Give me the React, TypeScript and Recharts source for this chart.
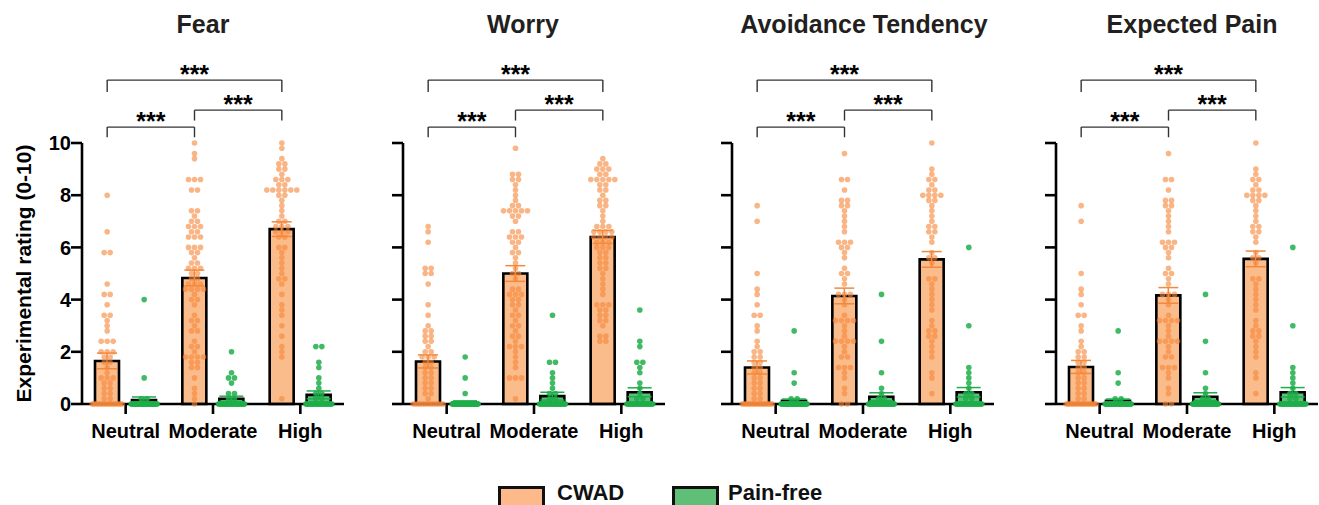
import React from "react";
import { ComposedChart, Bar, Scatter, XAxis, YAxis, ErrorBar, ReferenceLine } from "recharts";

type Pair = [number, number]; // [rating, number of participants at that rating]

const categories = ["Neutral", "Moderate", "High"];
const yTicks = [0, 2, 4, 6, 8, 10];

// bar heights (group means) and SEM
const fearCwadMean = [1.65, 4.83, 6.7];
const fearCwadErr = [0.3, 0.3, 0.28];
const fearPfMean = [0.15, 0.2, 0.35];
const fearPfErr = [0.12, 0.1, 0.15];

const worryCwadMean = [1.63, 5.0, 6.4];
const worryCwadErr = [0.25, 0.3, 0.25];
const worryPfMean = [0.06, 0.3, 0.45];
const worryPfErr = [0.06, 0.15, 0.17];

const avoidCwadMean = [1.4, 4.14, 5.54];
const avoidCwadErr = [0.25, 0.3, 0.3];
const avoidPfMean = [0.12, 0.28, 0.45];
const avoidPfErr = [0.07, 0.15, 0.18];

const painCwadMean = [1.42, 4.16, 5.56];
const painCwadErr = [0.25, 0.3, 0.3];
const painPfMean = [0.12, 0.28, 0.45];
const painPfErr = [0.07, 0.15, 0.18];

// individual ratings
const fearCwadDots: Pair[][] = [
  [[8, 1], [6.6, 1], [5.8, 2], [4.6, 1], [4.2, 2], [3.8, 1], [3.4, 2], [3.2, 1], [3, 1], [2.8, 1], [2.4, 3], [2, 3], [1.8, 2], [1.6, 2], [1.4, 1], [1.2, 1], [1, 3], [0.8, 2], [0.6, 2], [0.4, 2], [0.2, 2], [0, 18]],
  [[10, 1], [9.6, 1], [9.4, 1], [8.6, 3], [8.2, 2], [7.4, 2], [7.2, 1], [7, 2], [6.8, 3], [6.6, 2], [6.4, 3], [6, 3], [5.8, 2], [5.6, 1], [5.4, 2], [5.2, 3], [5, 2], [4.8, 2], [4.6, 3], [4.4, 4], [4.2, 1], [4, 2], [3.8, 1], [3.4, 1], [3.2, 2], [3, 1], [2.8, 2], [2.4, 1], [2.2, 2], [2, 1], [1.8, 4], [1.6, 2], [1.4, 2], [1, 1], [0.6, 1], [0.4, 1], [0.2, 1], [0, 1]],
  [[10, 1], [9.8, 1], [9.4, 1], [9.2, 2], [9, 2], [8.8, 1], [8.6, 3], [8.4, 2], [8.2, 6], [8, 2], [7.8, 1], [7.6, 1], [7.4, 1], [7.2, 1], [7, 2], [6.8, 3], [6.6, 3], [6.4, 2], [6, 2], [5.8, 1], [5.6, 1], [5.4, 1], [5.2, 1], [5, 1], [4.8, 2], [4.6, 1], [4.2, 1], [3.8, 1], [3.6, 1], [3.4, 1], [3, 1], [2.6, 1], [2.2, 1], [2, 1], [1.8, 1], [0.2, 1]],
];
const fearPfDots: Pair[][] = [
  [[4, 1], [1, 1], [0.2, 2], [0, 38]],
  [[2, 1], [1.2, 1], [1, 2], [0.8, 1], [0.4, 2], [0.2, 2], [0, 33]],
  [[2.2, 2], [1.6, 1], [1.4, 1], [1, 1], [0.8, 1], [0.6, 1], [0.4, 2], [0.2, 2], [0, 31]],
];

const worryCwadDots: Pair[][] = [
  [[6.8, 1], [6.6, 1], [6.2, 1], [5.2, 2], [5, 2], [4.6, 1], [3.8, 1], [3.4, 1], [3, 1], [2.8, 2], [2.6, 2], [2.4, 2], [2.2, 1], [2, 2], [1.8, 3], [1.6, 2], [1.4, 2], [1.2, 2], [1, 2], [0.8, 2], [0.6, 2], [0.4, 2], [0.2, 1], [0, 14]],
  [[9.8, 1], [8.8, 2], [8.6, 2], [8.4, 1], [8.2, 1], [8, 1], [7.8, 1], [7.6, 2], [7.4, 5], [7.2, 2], [7, 1], [6.6, 2], [6.4, 3], [6.2, 2], [6, 1], [5.8, 2], [5.6, 1], [5.4, 1], [5.2, 1], [5, 2], [4.8, 1], [4.4, 2], [4.2, 3], [4, 2], [3.8, 2], [3.6, 1], [3.4, 2], [3.2, 1], [3, 2], [2.8, 1], [2.6, 2], [2.4, 1], [2.2, 3], [2, 1], [1.8, 1], [1.6, 1], [1.4, 1], [1, 3], [0.2, 1]],
  [[9.4, 1], [9.2, 2], [9, 3], [8.8, 2], [8.6, 5], [8.4, 2], [8.2, 2], [8, 1], [7.8, 2], [7.6, 2], [7.4, 1], [7.2, 1], [7, 1], [6.8, 3], [6.6, 4], [6.4, 4], [6.2, 3], [6, 3], [5.8, 2], [5.6, 2], [5.4, 2], [5.2, 2], [5, 1], [4.8, 1], [4.6, 1], [4.4, 1], [4.2, 1], [3.8, 3], [3.6, 2], [3.4, 2], [3.2, 2], [3, 1], [2.6, 2], [2.4, 2]],
];
const worryPfDots: Pair[][] = [
  [[1.8, 1], [1, 1], [0.4, 1], [0, 40]],
  [[3.4, 1], [1.6, 2], [1.2, 1], [1, 1], [0.8, 1], [0.6, 1], [0.4, 2], [0.2, 2], [0, 32]],
  [[3.6, 1], [2.4, 1], [2.2, 1], [1.6, 2], [1.4, 1], [1.2, 1], [0.8, 1], [0.6, 1], [0.4, 1], [0.2, 2], [0, 31]],
];

const avoidCwadDots: Pair[][] = [
  [[7.6, 1], [7, 1], [5, 1], [4.4, 1], [4.2, 1], [3.8, 1], [3.4, 2], [3, 1], [2.8, 1], [2.4, 1], [2.2, 1], [2, 2], [1.8, 2], [1.6, 2], [1.4, 2], [1.2, 2], [1, 2], [0.8, 2], [0.6, 2], [0.4, 2], [0.2, 2], [0, 20]],
  [[9.6, 1], [8.6, 2], [8.2, 1], [7.8, 2], [7.6, 2], [7.4, 1], [7.2, 1], [7, 1], [6.8, 1], [6.6, 1], [6.2, 3], [6, 2], [5.8, 1], [5.6, 1], [5.2, 1], [5, 2], [4.8, 1], [4.6, 1], [4.2, 3], [4, 1], [3.8, 1], [3.4, 1], [3.2, 4], [3, 1], [2.8, 1], [2.6, 1], [2.4, 4], [2.2, 1], [2, 1], [1.8, 2], [1.4, 3], [1.2, 1], [1, 1], [0.6, 1], [0.4, 1], [0, 2]],
  [[10, 1], [9, 1], [8.8, 1], [8.6, 2], [8.4, 1], [8.2, 2], [8, 4], [7.8, 2], [7.6, 1], [7.4, 1], [7.2, 1], [7, 1], [6.8, 2], [6.6, 2], [6.4, 1], [6.2, 1], [5.8, 1], [5.6, 2], [5.4, 1], [4.8, 2], [4.6, 1], [4.4, 1], [4.2, 1], [4, 1], [3.8, 1], [3.6, 1], [3.2, 1], [3, 1], [2.8, 2], [2.6, 2], [2.4, 1], [2.2, 1], [2, 1], [1.8, 1], [1.2, 1], [1, 1], [0.4, 1]],
];
const avoidPfDots: Pair[][] = [
  [[2.8, 1], [1.2, 1], [0.8, 1], [0.2, 2], [0, 38]],
  [[4.2, 1], [2.4, 1], [1.2, 1], [0.6, 1], [0.4, 1], [0.2, 2], [0, 36]],
  [[6, 1], [3, 1], [1.4, 1], [1.2, 1], [1, 1], [0.8, 1], [0.6, 1], [0.4, 2], [0.2, 2], [0, 32]],
];

const painCwadDots: Pair[][] = [
  [[7.6, 1], [7, 1], [5, 1], [4.4, 1], [4.2, 1], [3.8, 1], [3.4, 2], [3, 1], [2.8, 1], [2.4, 1], [2.2, 1], [2, 2], [1.8, 2], [1.6, 2], [1.4, 2], [1.2, 2], [1, 2], [0.8, 2], [0.6, 2], [0.4, 2], [0.2, 2], [0, 20]],
  [[9.6, 1], [8.6, 2], [8.2, 1], [7.8, 2], [7.6, 2], [7.4, 1], [7.2, 1], [7, 1], [6.8, 1], [6.6, 1], [6.2, 3], [6, 2], [5.8, 1], [5.6, 1], [5.2, 1], [5, 2], [4.8, 1], [4.6, 1], [4.2, 3], [4, 1], [3.8, 1], [3.4, 1], [3.2, 4], [3, 1], [2.8, 1], [2.6, 1], [2.4, 4], [2.2, 1], [2, 1], [1.8, 2], [1.4, 3], [1.2, 1], [1, 1], [0.6, 1], [0.4, 1], [0, 2]],
  [[10, 1], [9, 1], [8.8, 1], [8.6, 2], [8.4, 1], [8.2, 2], [8, 4], [7.8, 2], [7.6, 1], [7.4, 1], [7.2, 1], [7, 1], [6.8, 2], [6.6, 2], [6.4, 1], [6.2, 1], [5.8, 1], [5.6, 2], [5.4, 1], [4.8, 2], [4.6, 1], [4.4, 1], [4.2, 1], [4, 1], [3.8, 1], [3.6, 1], [3.2, 1], [3, 1], [2.8, 2], [2.6, 2], [2.4, 1], [2.2, 1], [2, 1], [1.8, 1], [1.2, 1], [1, 1], [0.4, 1]],
];
const painPfDots: Pair[][] = [
  [[2.8, 1], [1.2, 1], [0.8, 1], [0.2, 2], [0, 38]],
  [[4.2, 1], [2.4, 1], [1.2, 1], [0.6, 1], [0.4, 1], [0.2, 2], [0, 36]],
  [[6, 1], [3, 1], [1.4, 1], [1.2, 1], [1, 1], [0.8, 1], [0.6, 1], [0.4, 2], [0.2, 2], [0, 32]],
];

// layout
const PLOT_W = 262;
const BAND = PLOT_W / 3;
const BAR_SIZE = 24;
const BAR_GAP = 13;
const SHIFT = (BAR_SIZE + BAR_GAP) / 2; // px from category centre to each bar centre
const DOT_STEP = 6;
const FONT = '"Liberation Sans", Arial, Helvetica, sans-serif';
const ORANGE = "#f5883a";
const GREEN = "#1fae4a";

// bracket heights in rating units (drawn above the axis top)
const TOP_BRACKET = [12.41, 11.95];
const MH_BRACKET = [11.26, 10.86];
const NM_BRACKET = [10.61, 10.22];

// beeswarm: spread tied values sideways, centred on the bar
function swarm(groups: Pair[][], side: number, maxW: number) {
  const pts: { x: number; y: number; dx: number }[] = [];
  groups.forEach((pairs, ci) => {
    pairs.forEach(([v, n]) => {
      const s = n > 1 ? Math.min(DOT_STEP, maxW / (n - 1)) : 0;
      for (let k = 0; k < n; k++) pts.push({ x: ci + 0.5, y: v, dx: side + (k - (n - 1) / 2) * s });
    });
  });
  return pts;
}

const dot = (fill: string, opacity: number) => (p: any) =>
  <circle cx={p.cx + p.payload.dx} cy={p.cy} r={2.8} fill={fill} fillOpacity={opacity} />;

const lineStyle = { stroke: "#333", strokeWidth: 1.4 };

function bracket(key: string, ci1: number, ci2: number, [top, leg]: number[]) {
  const x1 = ci1 + 0.5 - SHIFT / BAND;
  const x2 = ci2 + 0.5 - SHIFT / BAND;
  return [
    <ReferenceLine key={key + "l"} xAxisId="num" ifOverflow="visible" {...lineStyle}
      segment={[{ x: x1, y: leg }, { x: x1, y: top }]} />,
    <ReferenceLine key={key + "t"} xAxisId="num" ifOverflow="visible" {...lineStyle}
      segment={[{ x: x1, y: top }, { x: x2, y: top }]}
      label={{ value: "***", position: "top", offset: -3, fill: "#000", fontSize: 25, fontWeight: 700 }} />,
    <ReferenceLine key={key + "r"} xAxisId="num" ifOverflow="visible" {...lineStyle}
      segment={[{ x: x2, y: leg }, { x: x2, y: top }]} />,
  ];
}

const yLabel = (props: any) => {
  const vb = props.viewBox;
  const cx = vb.x + 23;
  const cy = vb.y + vb.height / 2;
  return (
    <text x={cx} y={cy} transform={`rotate(-90, ${cx}, ${cy})`} textAnchor="middle"
      dominantBaseline="central" fontSize={21} fontWeight={700} fill="#000">
      Experimental rating (0-10)
    </text>
  );
};

const noTickLabel = () => <g />;

const axisStroke = { stroke: "#000", strokeWidth: 2.6 };

interface PanelProps {
  title: string;
  titleX: number;
  left: number;
  yWidth: number;
  labels?: boolean;
  cwadMean: number[];
  cwadErr: number[];
  pfMean: number[];
  pfErr: number[];
  cwadDots: Pair[][];
  pfDots: Pair[][];
}

function Panel(props: PanelProps) {
  const { title, titleX, left, yWidth, labels, cwadMean, cwadErr, pfMean, pfErr, cwadDots, pfDots } = props;
  const rows = categories.map((cat, i) => ({
    cat, cwad: cwadMean[i], cwadErr: cwadErr[i], pf: pfMean[i], pfErr: pfErr[i],
  }));
  const cwadPts = swarm(cwadDots, -SHIFT, 30);
  const pfPts = swarm(pfDots, SHIFT, 26);
  return (
    <>
      <div style={{
        position: "absolute", left: titleX - 200, width: 400, top: 12, textAlign: "center",
        fontSize: 25, lineHeight: "25px", fontWeight: 700, color: "#231f20",
      }}>{title}</div>
      <div style={{ position: "absolute", left, top: 0 }}>
        <ComposedChart width={yWidth + PLOT_W + 1} height={460} data={rows}
          margin={{ top: 143, right: 1, bottom: 16, left: 0 }} barSize={BAR_SIZE} barGap={BAR_GAP}>
          <XAxis xAxisId="cat" dataKey="cat" height={40} tickSize={10} tickMargin={10}
            axisLine={axisStroke} tickLine={axisStroke}
            tick={{ fill: "#000", fontSize: 20, fontWeight: 700 }} />
          <XAxis xAxisId="num" type="number" dataKey="x" domain={[0, 3]} hide />
          <YAxis width={yWidth} domain={[0, 10]} ticks={yTicks} interval={0} tickSize={11} tickMargin={0}
            axisLine={axisStroke} tickLine={axisStroke}
            tick={labels ? { fill: "#000", fontSize: 20, fontWeight: 700 } : noTickLabel}
            label={labels ? yLabel : undefined} />
          <Bar xAxisId="cat" dataKey="cwad" fill="#fbbc8c" stroke="#000" strokeWidth={2.6} isAnimationActive={false}>
            <ErrorBar dataKey="cwadErr" width={10} stroke={ORANGE} strokeWidth={1.5} direction="y" />
          </Bar>
          <Bar xAxisId="cat" dataKey="pf" fill="#5fbf79" stroke="#000" strokeWidth={2.6} isAnimationActive={false}>
            <ErrorBar dataKey="pfErr" width={12} stroke={GREEN} strokeWidth={1.5} direction="y" />
          </Bar>
          <Scatter xAxisId="num" data={cwadPts} dataKey="y" shape={dot(ORANGE, 0.62)} isAnimationActive={false} />
          <Scatter xAxisId="num" data={pfPts} dataKey="y" shape={dot(GREEN, 0.85)} isAnimationActive={false} />
          {bracket("top", 0, 2, TOP_BRACKET)}
          {bracket("mh", 1, 2, MH_BRACKET)}
          {bracket("nm", 0, 1, NM_BRACKET)}
        </ComposedChart>
      </div>
    </>
  );
}

const swatch = (left: number, fill: string) => (
  <div style={{
    position: "absolute", left, top: 486, width: 47, height: 24, boxSizing: "border-box",
    border: "3px solid #111", background: fill,
  }} />
);
const legendText = (left: number, text: string) => (
  <div style={{ position: "absolute", left, top: 484, fontSize: 22, lineHeight: "18px", fontWeight: 700, color: "#111" }}>{text}</div>
);

export default function App() {
  return (
    <div style={{
      position: "absolute", left: 0, top: 0, width: 1319, height: 505, overflow: "hidden",
      background: "#fff", fontFamily: FONT,
    }}>
      <Panel title="Fear" titleX={203} left={0} yWidth={82} labels
        cwadMean={fearCwadMean} cwadErr={fearCwadErr} pfMean={fearPfMean} pfErr={fearPfErr}
        cwadDots={fearCwadDots} pfDots={fearPfDots} />
      <Panel title="Worry" titleX={523} left={383} yWidth={20}
        cwadMean={worryCwadMean} cwadErr={worryCwadErr} pfMean={worryPfMean} pfErr={worryPfErr}
        cwadDots={worryCwadDots} pfDots={worryPfDots} />
      <Panel title="Avoidance Tendency" titleX={864} left={712} yWidth={20}
        cwadMean={avoidCwadMean} cwadErr={avoidCwadErr} pfMean={avoidPfMean} pfErr={avoidPfErr}
        cwadDots={avoidCwadDots} pfDots={avoidPfDots} />
      <Panel title="Expected Pain" titleX={1192} left={1036} yWidth={20}
        cwadMean={painCwadMean} cwadErr={painCwadErr} pfMean={painPfMean} pfErr={painPfErr}
        cwadDots={painCwadDots} pfDots={painPfDots} />
      {swatch(498, "#fdb98a")}
      {legendText(557, "CWAD")}
      {swatch(672, "#5fbf77")}
      {legendText(728, "Pain-free")}
    </div>
  );
}
